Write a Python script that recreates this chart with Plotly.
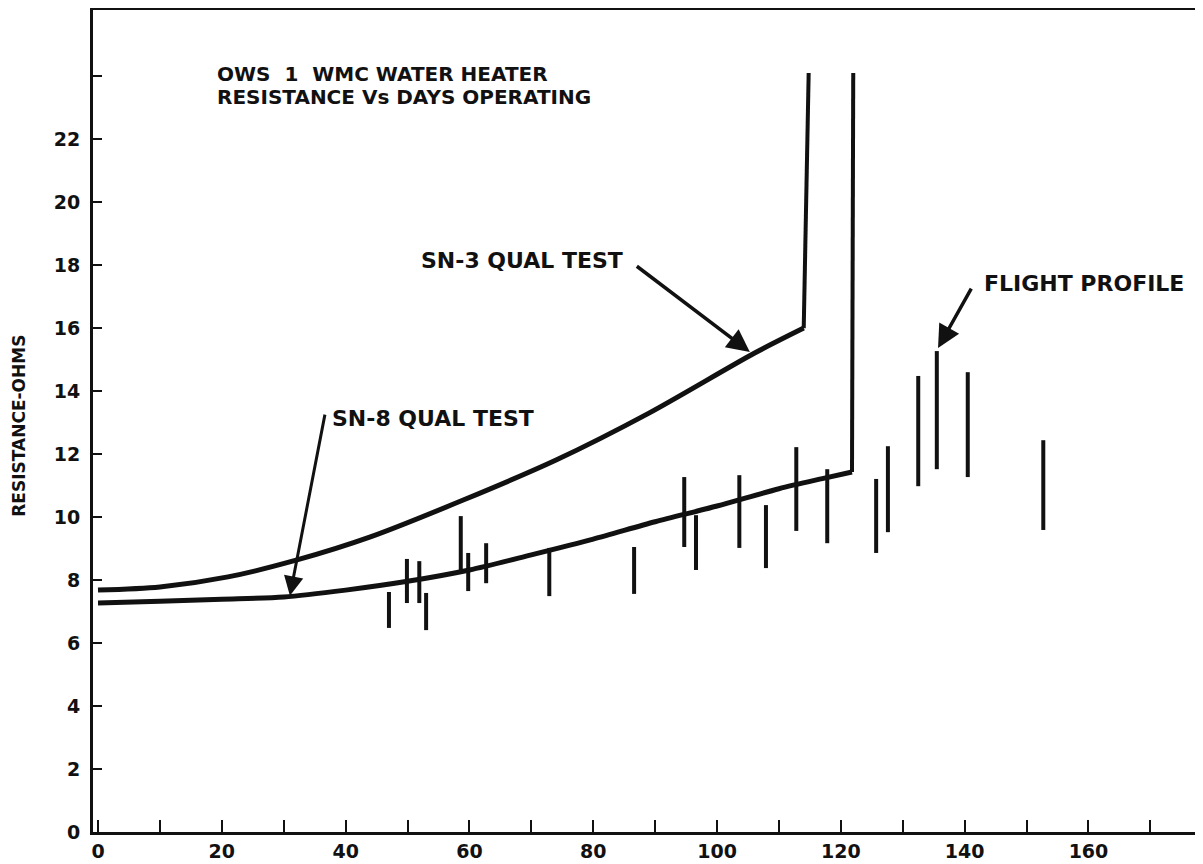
import plotly.graph_objects as go

# ---- data ----
sn3_days = [0, 10, 21, 32, 44, 59, 74, 89, 106, 114]
sn3_ohms = [7.68, 7.78, 8.1, 8.63, 9.37, 10.54, 11.81, 13.3, 15.2, 16.0]
sn3_fail_days = [114, 114.8]
sn3_fail_ohms = [16.0, 24.1]

sn8_days = [0, 10, 20, 30, 40, 50, 60, 70, 80, 90, 100, 110, 117, 121.8]
sn8_ohms = [7.27, 7.33, 7.39, 7.46, 7.68, 7.96, 8.32, 8.8, 9.3, 9.85, 10.35, 10.9, 11.22, 11.43]
sn8_fail_days = [121.8, 122.0]
sn8_fail_ohms = [11.43, 24.1]

flight_days = [47.0, 49.9, 51.9, 53.0, 58.6, 59.8, 62.7, 72.9, 86.6, 94.7, 96.6,
               103.6, 107.9, 112.8, 117.8, 125.7, 127.6, 132.5, 135.5, 140.5, 152.7]
flight_low = [6.48, 7.27, 7.27, 6.41, 8.22, 7.65, 7.90, 7.49, 7.56, 9.05, 8.32,
              9.02, 8.38, 9.56, 9.17, 8.86, 9.52, 10.98, 11.52, 11.27, 9.59]
flight_high = [7.62, 8.67, 8.60, 7.59, 10.03, 8.86, 9.17, 9.02, 9.05, 11.27, 10.06,
               11.33, 10.38, 12.22, 11.52, 11.21, 12.25, 14.48, 15.27, 14.6, 12.44]

x_tick_vals = [0, 20, 40, 60, 80, 100, 120, 140, 160]
x_tick_text = ["0", "20", "40", "60", "80", "100", "120", "140", "160"]
x_minor_vals = [10, 30, 50, 70, 90, 110, 130, 150, 170]
y_tick_vals = [0, 2, 4, 6, 8, 10, 12, 14, 16, 18, 20, 22]
y_tick_text = ["0", "2", "4", "6", "8", "10", "12", "14", "16", "18", "20", "22"]

title_lines = ["OWS  1  WMC WATER HEATER", "RESISTANCE Vs DAYS OPERATING"]

INK = "#111111"
FONT = "DejaVu Sans"

fig = go.Figure()

# flight profile bars
bx, by = [], []
for d, lo, hi in zip(flight_days, flight_low, flight_high):
    bx += [d, d, None]
    by += [lo, hi, None]
fig.add_trace(go.Scatter(x=bx, y=by, mode="lines", line=dict(color=INK, width=4),
                         hoverinfo="skip", showlegend=False))

fig.add_trace(go.Scatter(x=sn3_days, y=sn3_ohms, mode="lines",
                         line=dict(color=INK, width=5, shape="spline", smoothing=0.8),
                         showlegend=False))
fig.add_trace(go.Scatter(x=sn3_fail_days, y=sn3_fail_ohms, mode="lines",
                         line=dict(color=INK, width=4), showlegend=False))
fig.add_trace(go.Scatter(x=sn8_days, y=sn8_ohms, mode="lines",
                         line=dict(color=INK, width=5, shape="spline", smoothing=0.8),
                         showlegend=False))
fig.add_trace(go.Scatter(x=sn8_fail_days, y=sn8_fail_ohms, mode="lines",
                         line=dict(color=INK, width=4), showlegend=False))

bold = dict(family=FONT, size=22, color=INK)

annotations = [
    dict(x=18.9, y=24.08, xref="x", yref="y", xanchor="left", yanchor="middle",
         text=f"<b>{title_lines[0]}</b>", showarrow=False,
         font=dict(family=FONT, size=20, color=INK)),
    dict(x=18.9, y=23.34, xref="x", yref="y", xanchor="left", yanchor="middle",
         text=f"<b>{title_lines[1]}</b>", showarrow=False,
         font=dict(family=FONT, size=20, color=INK)),
    dict(x=68.5, y=18.16, xref="x", yref="y", text="<b>SN-3 QUAL TEST</b>",
         showarrow=False, font=bold),
    dict(x=37.5, y=13.14, xref="x", yref="y", xanchor="left", text="<b>SN-8 QUAL TEST</b>",
         showarrow=False, font=bold),
    dict(x=142.8, y=17.43, xref="x", yref="y", xanchor="left", text="<b>FLIGHT PROFILE</b>",
         showarrow=False, font=bold),
    # arrows
    dict(x=105.3, y=15.24, ax=86.8, ay=18.0, xref="x", yref="y", axref="x", ayref="y",
         text="", showarrow=True, arrowhead=2, arrowsize=1.3, arrowwidth=3.5, arrowcolor=INK),
    dict(x=31.0, y=7.5, ax=36.7, ay=13.3, xref="x", yref="y", axref="x", ayref="y",
         text="", showarrow=True, arrowhead=2, arrowsize=1.3, arrowwidth=3, arrowcolor=INK),
    dict(x=135.7, y=15.37, ax=141.2, ay=17.3, xref="x", yref="y", axref="x", ayref="y",
         text="", showarrow=True, arrowhead=2, arrowsize=1.3, arrowwidth=3.5, arrowcolor=INK),
    # y-axis title
    dict(x=-74 / 1110, y=12.9, xref="paper", yref="y", xanchor="center", yanchor="middle",
         text="<b>RESISTANCE-OHMS</b>",
         textangle=-90, showarrow=False, font=dict(family=FONT, size=17, color=INK)),
]

# the page adds an 8px body margin, so the figure is sized to fit inside the window
fig.update_layout(
    width=1195, height=856,
    margin=dict(l=85, r=0, t=2, b=32),
    paper_bgcolor="white", plot_bgcolor="white",
    annotations=annotations,
    showlegend=False,
)

fig.update_xaxes(
    range=[-0.81, 178.5], showgrid=False, zeroline=False,
    showline=True, linecolor=INK, linewidth=3, mirror=True,
    tickmode="array", tickvals=x_tick_vals, ticktext=[f"<b>{t}</b>" for t in x_tick_text],
    ticks="inside", ticklen=12, tickwidth=2, tickcolor=INK,
    minor=dict(tickmode="array", tickvals=x_minor_vals,
               ticks="inside", ticklen=12, tickwidth=2, tickcolor=INK),
    tickfont=dict(family=FONT, size=19, color=INK), ticklabelstandoff=0,
)
fig.update_yaxes(
    range=[0, 26.1], showgrid=False, zeroline=False,
    showline=True, linecolor=INK, linewidth=3,
    tickmode="array", tickvals=y_tick_vals, ticktext=[f"<b>{t}</b>" for t in y_tick_text],
    ticks="inside", ticklen=9, tickwidth=2, tickcolor=INK,
    minor=dict(tickmode="array", tickvals=[24], ticks="inside", ticklen=9,
               tickwidth=2, tickcolor=INK),
    tickfont=dict(family=FONT, size=19, color=INK), ticklabelstandoff=6,
)

fig.write_html("out.html")
